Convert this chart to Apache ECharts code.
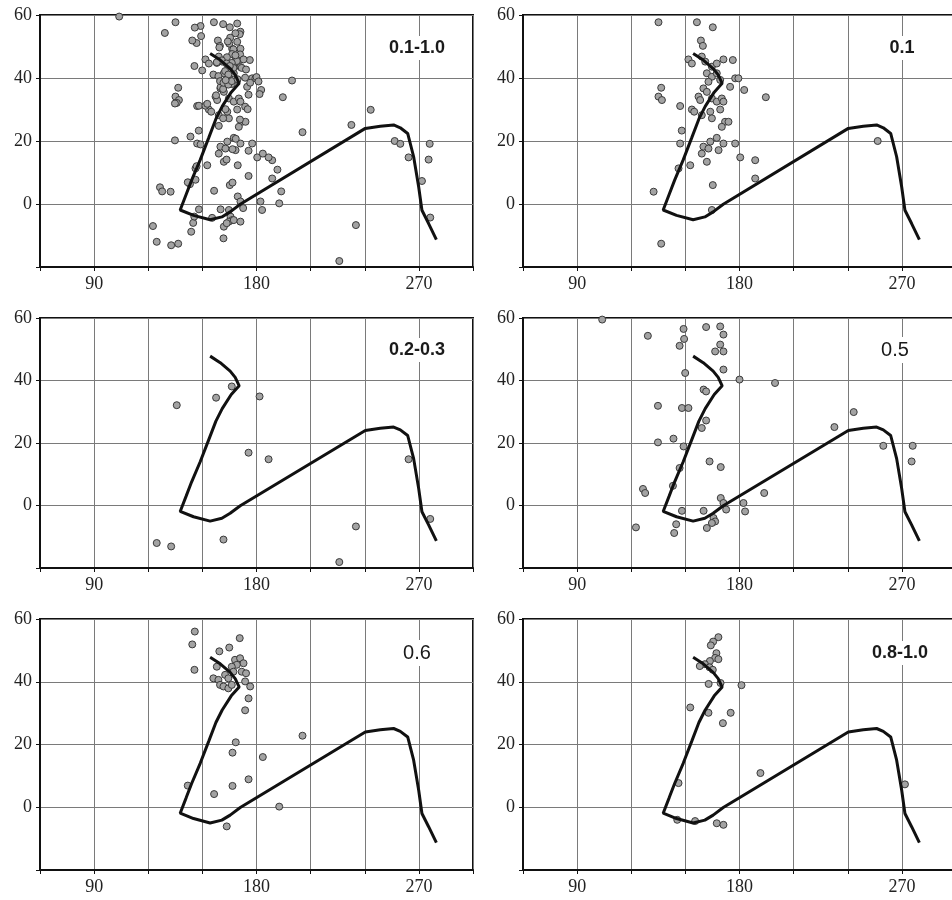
<!DOCTYPE html>
<html>
<head>
<meta charset="utf-8">
<script src="https://cdn.jsdelivr.net/npm/echarts@6/dist/echarts.min.js"></script>
<style>html,body{margin:0;padding:0;background:#fff;}#c{width:952px;height:900px;}</style>
</head>
<body>
<div id="c"></div>
<script>
// Panel labels
var panelLabels = ['0.1-1.0', '0.1', '0.2-0.3', '0.5', '0.6', '0.8-1.0'];
var xTickLabels = [90, 180, 270];
var yTickLabels = [0, 20, 40, 60];

// Reference curve (same in every panel)
var curve = [[154.3,47.8],[159.9,45.7],[165.4,43],[168.2,41],[170.4,38.3],[166,35.5],[161,31],[157.5,27],[153.5,21],[148.8,14],[144,7.5],[141,3],[137.7,-1.9],[145.1,-3.6],[154.3,-5],[160.8,-4.1],[165.4,-2.5],[171,-0.1],[240.3,24],[248.6,24.7],[256,25.1],[259.7,24.2],[263.8,22.4],[267.1,15],[269.9,5.4],[271.7,-2],[275.4,-6.2],[279.7,-11.3]];

// Scatter points per panel
var pts01 = [[135.1,57.7],[156.4,57.7],[165.2,56.1],[158.6,51.9],[159.7,50.2],[151.7,45.9],[153.6,44.6],[159.1,46.8],[161,45.2],[164.7,43.6],[167.4,44.6],[171.1,45.9],[176.3,45.7],[161.9,41.5],[164.7,40.4],[162.8,38.8],[167.4,41.5],[169.3,39.4],[177.6,39.9],[179.4,39.9],[174.8,37.2],[182.6,36.2],[194.6,33.9],[160,36.7],[161.9,35.6],[157.3,34.1],[158.2,33],[164.7,33.5],[167.4,32.5],[170.2,33.5],[171.1,32.5],[169.3,30],[153.6,30],[154.9,29.3],[159.1,28.2],[163.8,29.3],[164.7,27.2],[172,26.1],[173.9,26.1],[170.2,24.5],[147.1,31.1],[136.6,36.9],[135.1,34.1],[137,33],[148,23.3],[147.1,19.2],[167.4,21],[163.8,19.8],[160,18.2],[162.8,17.6],[159.1,16],[171.1,19.2],[177.6,19.2],[168.4,17.1],[161.9,13.4],[152.7,12.3],[146.2,11.3],[180.4,14.8],[188.7,13.9],[188.7,8.1],[165.2,6],[132.4,3.9],[164.7,-1.9],[136.6,-12.6],[256.6,20]];
var pts0203 = [[135.8,32.1],[157.6,34.5],[166.3,38.1],[181.7,34.9],[175.6,16.9],[186.7,14.8],[264.3,14.8],[276.3,-4.3],[235.1,-6.7],[225.9,-18.1],[161.7,-10.9],[124.7,-12],[132.7,-13.1]];
var pts05 = [[103.9,59.5],[129.2,54.3],[149,56.5],[149.3,53.3],[146.8,51.1],[161.5,57.1],[169.3,57.3],[171.1,54.7],[169.3,51.5],[166.5,49.3],[171.1,49.3],[171.1,43.5],[149.9,42.4],[180,40.3],[160.1,37.1],[161.5,36.5],[134.8,31.9],[148.1,31.2],[151.7,31.2],[161.5,27.2],[159.1,24.8],[143.4,21.4],[134.8,20.2],[149,18.9],[163.4,14.1],[169.6,12.3],[146.8,12],[126.5,5.3],[127.7,4],[143.1,6.3],[169.6,2.4],[171.1,0.8],[172.6,-1.3],[193.7,4],[182.2,0.8],[183.1,-1.9],[148.1,-1.7],[160.1,-1.7],[165.6,-4],[166.5,-5.1],[164.7,-5.6],[161.9,-7.2],[144.9,-6],[143.8,-8.8],[122.6,-7],[199.7,39.2],[232.6,25.1],[243.3,29.9],[259.7,19.1],[276,19.1],[275.4,14.1]];
var pts06 = [[145.8,56],[144.4,51.9],[145.6,43.8],[170.7,53.9],[164.9,50.9],[159.4,49.7],[168.1,47],[170.9,47.5],[172.8,45.9],[169.1,45.4],[166.3,44.8],[167.2,43.2],[171.8,43.2],[174.2,42.7],[158,44.8],[156.1,41.1],[158.9,40.6],[159.8,39],[161.7,38.5],[164.4,37.9],[166.3,39],[162.6,42.2],[164.4,41.1],[173.7,40.1],[176.5,38.5],[175.6,34.7],[173.7,30.9],[168.5,20.7],[166.7,17.4],[183.5,16],[205.5,22.8],[175.6,8.9],[166.7,6.8],[156.5,4.2],[141.9,6.9],[192.6,0.2],[163.5,-6.1]];
var pts0810 = [[168.3,54.2],[165.4,52.8],[164.1,51.6],[167.2,49.1],[166.5,47.6],[168.3,47.2],[163.6,46.6],[160.8,45.6],[158,45],[163.4,44.6],[165.2,43.8],[162.9,39.3],[169.5,39.6],[181.1,38.9],[152.7,31.8],[162.8,30.1],[175.1,30.1],[170.8,26.8],[191.6,10.9],[146.2,7.7],[271.7,7.3],[145.5,-4],[155.4,-4.4],[167.4,-5.1],[171.1,-5.6]];
// Panel "0.1-1.0" holds all classes together
var ptsAll = [].concat(pts01, pts0203, pts05, pts06, pts0810);

var panelPoints = [ptsAll, pts01, pts0203, pts05, pts06, pts0810];

var grids = [
  {left:40, top:15, width:433, height:252},
  {left:523, top:15, width:433, height:252},
  {left:40, top:318, width:433, height:250},
  {left:523, top:318, width:433, height:250},
  {left:40, top:619, width:433, height:251},
  {left:523, top:619, width:433, height:251}
];
var labelPos = [[417,48],[902,48],[417,350],[895,350],[417,653],[900,653]];

var chart = echarts.init(document.getElementById('c'), null, {renderer:'canvas'});
var option = {
  backgroundColor:'#fff',
  animation:false,
  grid:[], xAxis:[], yAxis:[], series:[], graphic:[]
};
for (var i=0;i<6;i++){
  var g = grids[i];
  option.grid.push({left:g.left, top:g.top, width:g.width, height:g.height, show:true, borderColor:'#111', borderWidth:2, backgroundColor:'#fff', containLabel:false, outerBoundsMode:'none'});
  option.xAxis.push({
    type:'value', gridIndex:i, min:60, max:300, interval:30,
    axisLine:{show:true, onZero:false, lineStyle:{color:'#111', width:2}},
    axisTick:{show:true, length:4, lineStyle:{color:'#111'}},
    splitLine:{show:true, lineStyle:{color:'#7a7a7a', width:1}},
    axisLabel:{margin:8, color:'#222', fontFamily:'Liberation Serif', fontSize:18,
      formatter:function(v){ return xTickLabels.indexOf(v)>=0 ? String(v) : ''; }}
  });
  option.yAxis.push({
    type:'value', gridIndex:i, min:-20, max:60, interval:20,
    axisLine:{show:true, onZero:false, lineStyle:{color:'#111', width:2}},
    axisTick:{show:true, length:4, lineStyle:{color:'#111'}},
    splitLine:{show:true, lineStyle:{color:'#7a7a7a', width:1}},
    axisLabel:{margin:8, color:'#222', fontFamily:'Liberation Serif', fontSize:18,
      formatter:function(v){ return yTickLabels.indexOf(v)>=0 ? String(v) : ''; }}
  });
  option.series.push({
    type:'scatter', xAxisIndex:i, yAxisIndex:i, data:panelPoints[i],
    symbol:'circle', symbolSize:7, z:2,
    itemStyle:{color:'#a3a3a3', borderColor:'#3a3a3a', borderWidth:1, opacity:1}
  });
  option.series.push({
    type:'line', xAxisIndex:i, yAxisIndex:i, data:curve, showSymbol:false,
    lineStyle:{color:'#111', width:3}, z:3
  });
  var lp = labelPos[i];
  var isBold = !(panelLabels[i]==='0.5' || panelLabels[i]==='0.6');
  option.graphic.push({
    type:'text', x:lp[0], y:lp[1], z:10,
    style:{text:panelLabels[i], textAlign:'center', textVerticalAlign:'middle',
      font:(isBold?'bold 18px ':'20px ')+'"Liberation Sans", Arial, sans-serif', fill:'#1a1a1a',
      backgroundColor:'#fff', padding:[3,6]}
  });
}
chart.setOption(option);
</script>
</body>
</html>
